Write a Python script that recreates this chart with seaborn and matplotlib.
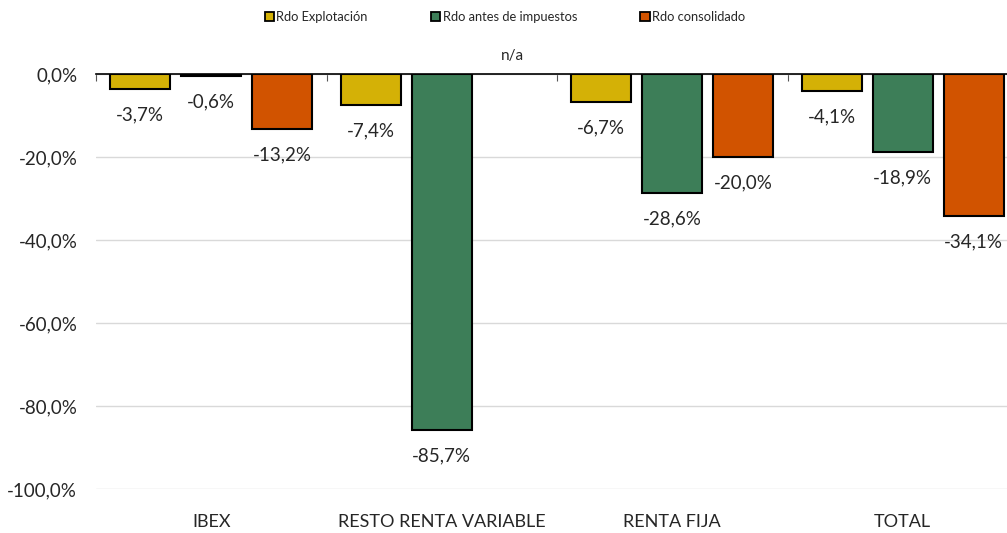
import matplotlib
matplotlib.use("Agg")
import matplotlib.pyplot as plt
import numpy as np
import pandas as pd
import seaborn as sns
from matplotlib.ticker import FixedLocator, FuncFormatter

categories = ["IBEX", "RESTO RENTA VARIABLE", "RENTA FIJA", "TOTAL"]
series = ["Rdo Explotación", "Rdo antes de impuestos", "Rdo consolidado"]
rdo_explotacion = [-3.7, -7.4, -6.7, -4.1]
rdo_antes_impuestos = [-0.6, -85.7, -28.6, -18.9]
rdo_consolidado = [-13.2, np.nan, -20.0, -34.1]
colors = ["#D4B106", "#3D7E58", "#D15300"]

df = pd.DataFrame({
    "grupo": categories * 3,
    "serie": [s for s in series for _ in categories],
    "valor": rdo_explotacion + rdo_antes_impuestos + rdo_consolidado,
})

sns.set_style("white")
plt.rcParams["font.family"] = ["Lato", "DejaVu Sans"]

fig = plt.figure(figsize=(10.07, 5.33), dpi=100)
ax = fig.add_axes([96 / 1007, 44 / 533, 922 / 1007, 415 / 533])

sns.barplot(
    data=df, x="grupo", y="valor", hue="serie", order=categories,
    hue_order=series, palette=colors, width=0.924, gap=0.156,
    edgecolor="black", linewidth=1.5, saturation=1, ax=ax, zorder=3,
)

fmt = lambda v: f"{v:.1f}%".replace(".", ",")
for cont in ax.containers:
    vals = [v for v in cont.datavalues]
    ax.bar_label(cont, labels=[fmt(v) for v in vals], padding=12.5, fontsize=13.5)

# n/a marker for the missing bar
missing = [i for i, v in enumerate(rdo_consolidado) if np.isnan(v)]
for i in missing:
    ax.annotate("n/a", (i + 0.308, 0), xytext=(0, 13), textcoords="offset points",
                ha="center", va="center", fontsize=11, annotation_clip=False)

ax.set_ylim(-100, 0)
ax.set_xlim(-0.5, 3.5)
ax.set_yticks(np.arange(-100, 1, 20))
ax.yaxis.set_major_formatter(FuncFormatter(lambda v, p: f"{v:.1f}%".replace(".", ",")))
ax.grid(axis="y", color="#D9D9D9", linewidth=1)
ax.set_axisbelow(True)
ax.tick_params(axis="y", length=0, pad=13.5, labelsize=13.5)
ax.tick_params(axis="x", which="major", length=0, pad=18, labelsize=13)
ax.xaxis.set_minor_locator(FixedLocator([-0.5, 0.5, 1.5, 2.5]))
ax.tick_params(axis="x", which="minor", top=True, bottom=False, direction="in",
               length=5, width=0.8, color="#555555")
for s in ["left", "right", "bottom"]:
    ax.spines[s].set_visible(False)
ax.spines["top"].set_color("black")
ax.spines["top"].set_linewidth(1.2)
ax.set_xlabel("")
ax.set_ylabel("")

ax.legend_.remove()
handles = [plt.Rectangle((0, 0), 1, 1, facecolor=c, edgecolor="black", linewidth=1.3)
           for c in colors]
fig.legend(handles, series, loc="center", bbox_to_anchor=(0.5015, 1 - 17 / 533),
           ncol=3, frameon=False, fontsize=9.3, handlelength=0.7, handleheight=0.7,
           handletextpad=0.2, columnspacing=4.9)

fig.savefig("out.png", dpi=100)
